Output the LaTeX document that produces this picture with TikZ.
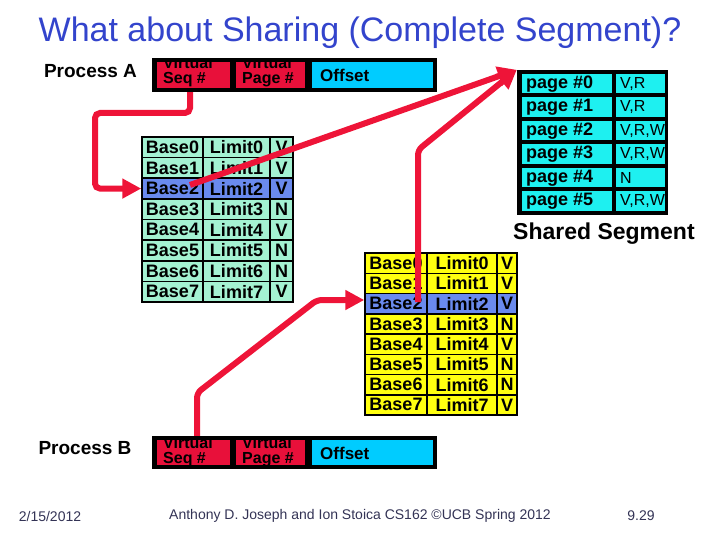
\documentclass[tikz,border=0pt]{standalone}
\usepackage{fontspec}
\setmainfont{Liberation Sans}
\usetikzlibrary{arrows.meta}
\definecolor{titleblue}{HTML}{3344CC}
\definecolor{arrowred}{HTML}{EE1438}
\definecolor{cellred}{HTML}{E8103A}
\definecolor{offcyan}{HTML}{00CCFF}
\definecolor{pagecyan}{HTML}{1EF0F0}
\definecolor{mint}{HTML}{A4F2D2}
\definecolor{rowblue}{HTML}{6A8AEE}
\definecolor{segyellow}{HTML}{FFFF10}
\definecolor{footgray}{HTML}{333355}
\begin{document}
\begin{tikzpicture}[x=1pt,y=-1pt,
  cell/.style={draw=black,line width=1.5pt,inner sep=0pt,font=\fontsize{18}{18}\selectfont\bfseries},
  blackbox/.style={fill=black,inner sep=0pt},
  fieldtxt/.style={anchor=base west,inner sep=0pt,font=\fontsize{16}{16}\selectfont\bfseries},
  pagetxt/.style={anchor=west,inner sep=0pt,font=\fontsize{18}{18}\selectfont\bfseries},
  permtxt/.style={anchor=west,inner sep=0pt,font=\fontsize{16}{16}\selectfont},
  redarrow/.style={draw=arrowred,line width=6pt,rounded corners=5pt},
  tipstyle/.style={-{Triangle[length=19pt,width=19pt]}}
]
\useasboundingbox (0,0) rectangle (720,540);

% title
\node[text=titleblue,font=\fontsize{34}{34}\selectfont] (title) at (360,33) {What about Sharing (Complete Segment)?};

% process labels
\node[font=\fontsize{19}{19}\selectfont\bfseries] (procA) at (90.5,71) {Process A};
\node[font=\fontsize{19}{19}\selectfont\bfseries] (procB) at (85,448) {Process B};

% address A
\node[blackbox,minimum width=285pt,minimum height=34pt] (addrA) at (294.5,75) {};
\node[fill=cellred,inner sep=0pt,minimum width=73pt,minimum height=26pt] (sa) at (193.5,75) {};
\node[fill=cellred,inner sep=0pt,minimum width=69pt,minimum height=26pt] (pa) at (270.5,75) {};
\node[fill=offcyan,inner sep=0pt,minimum width=121pt,minimum height=26pt] (oa) at (372.5,75) {};
\begin{scope}
\clip (157,62) rectangle (230,88);
\node[fieldtxt] (saT1) at (163,69) {Virtual};
\node[fieldtxt] (saT2) at (163,83.5) {Seq \#};
\end{scope}
\begin{scope}
\clip (236,62) rectangle (305,88);
\node[fieldtxt] (paT1) at (242,69) {Virtual};
\node[fieldtxt] (paT2) at (242,83.5) {Page \#};
\end{scope}
\node[fieldtxt,anchor=west,font=\fontsize{17}{17}\selectfont\bfseries] (oaT) at (320,75) {Offset};

% address B
\node[blackbox,minimum width=285pt,minimum height=33pt] (addrB) at (294.5,452.5) {};
\node[fill=cellred,inner sep=0pt,minimum width=73pt,minimum height=25pt] (sbx) at (193.5,452.5) {};
\node[fill=cellred,inner sep=0pt,minimum width=69pt,minimum height=25pt] (pbx) at (270.5,452.5) {};
\node[fill=offcyan,inner sep=0pt,minimum width=121pt,minimum height=25pt] (obx) at (372.5,452.5) {};
\begin{scope}
\clip (157,440) rectangle (230,465);
\node[fieldtxt] (sbT1) at (163,448) {Virtual};
\node[fieldtxt] (sbT2) at (163,463) {Seq \#};
\end{scope}
\begin{scope}
\clip (236,440) rectangle (305,465);
\node[fieldtxt] (pbT1) at (242,448) {Virtual};
\node[fieldtxt] (pbT2) at (242,463) {Page \#};
\end{scope}
\node[fieldtxt,anchor=west,font=\fontsize{17}{17}\selectfont\bfseries] (obT) at (320,453) {Offset};

% segment table A
\foreach \i/\v/\c in {0/V/mint,1/V/mint,2/V/rowblue,3/N/mint,4/V/mint,5/N/mint,6/N/mint,7/V/mint} {
  \pgfmathsetmacro\yc{137+20.625*\i+10.3125}
  \node[cell,fill=\c,minimum width=61pt,minimum height=20.625pt] (ab\i) at (172.5,\yc) {Base\i};
  \node[cell,fill=\c,minimum width=67pt,minimum height=20.625pt] (al\i) at (236.5,\yc) {Limit\i};
  \node[cell,fill=\c,minimum width=23pt,minimum height=20.625pt] (av\i) at (281.5,\yc) {\v};
}

% shared segment table
\foreach \i/\v/\c in {0/V/segyellow,1/V/segyellow,2/V/rowblue,3/N/segyellow,4/V/segyellow,5/N/segyellow,6/N/segyellow,7/V/segyellow} {
  \pgfmathsetmacro\yc{253+20.25*\i+10.125}
  \node[cell,fill=\c,minimum width=62pt,minimum height=20.25pt] (sb\i) at (396,\yc) {Base\i};
  \node[cell,fill=\c,minimum width=70pt,minimum height=20.25pt] (sl\i) at (462,\yc) {Limit\i};
  \node[cell,fill=\c,minimum width=20pt,minimum height=20.25pt] (sv\i) at (507,\yc) {\v};
}
\node[font=\fontsize{23}{23}\selectfont\bfseries,anchor=west,inner sep=0pt] (shared) at (513,234) {Shared Segment};

% page table
\node[blackbox,minimum width=151pt,minimum height=145pt] (pt) at (592.5,142.5) {};
\foreach \i/\p in {0/{V,R},1/{V,R},2/{V,R,W},3/{V,R,W},4/{N},5/{V,R,W}} {
  \pgfmathsetmacro\yc{74+23.5*\i+9.75}
  \node[fill=pagecyan,inner sep=0pt,minimum width=90pt,minimum height=19.5pt] (pg\i) at (567,\yc) {};
  \node[fill=pagecyan,inner sep=0pt,minimum width=49pt,minimum height=19.5pt] (pp\i) at (640.5,\yc) {};
  \node[pagetxt] (pgT\i) at (526,\yc) {page \#\i};
  \begin{scope}
    \clip (616,\yc-9.75) rectangle (665,\yc+9.75);
    \node[permtxt] (ppT\i) at (620,\yc) {\p};
  \end{scope}
}

% arrows
\coordinate (k1) at (190,113);
\coordinate (k2) at (95,113);
\draw[redarrow,tipstyle] (addrA.south -| k1) -- (k1) -- (k2) |- (ab2.west);

\coordinate (b2a) at (190,185);
\draw[redarrow,tipstyle] (b2a) -- (pt.north west);

\coordinate (c1) at (418,302);
\coordinate (c2) at (418,150);
\draw[redarrow,tipstyle] (c1) -- (c2) -- (pt.north west);

\coordinate (d1) at (197,393);
\coordinate (d2) at (317,300);
\draw[redarrow,tipstyle] (addrB.north -| d1) -- (d1) -- (d2) -- (d2 -| sb2.west);

% footer
\node[text=footgray,font=\fontsize{14}{14}\selectfont] (date) at (50,516) {2/15/2012};
\node[text=footgray,font=\fontsize{14}{14}\selectfont] (credit) at (360,516) {Anthony D. Joseph and Ion Stoica CS162 ©UCB Spring 2012};
\node[text=footgray,font=\fontsize{14}{14}\selectfont] (pagenum) at (641,516) {9.29};
\end{tikzpicture}
\end{document}
